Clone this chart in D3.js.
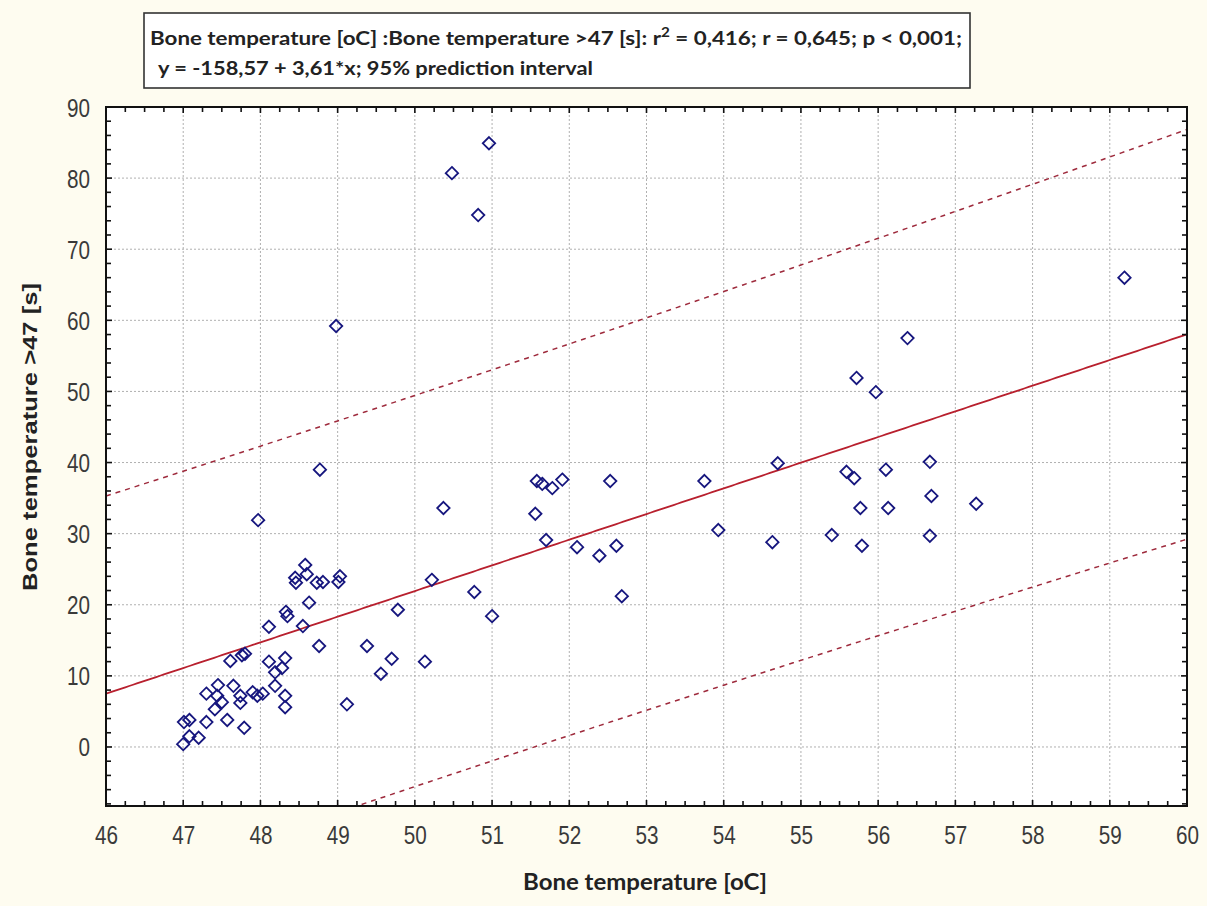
<!DOCTYPE html>
<html>
<head>
<meta charset="utf-8">
<script src="https://cdn.jsdelivr.net/npm/d3@7"></script>
<style>
  html, body { margin: 0; padding: 0; background: #fefcf0; }
  svg { display: block; }
</style>
</head>
<body>
<svg id="chart" width="1207" height="906"></svg>
<script>
// ---------------- data ----------------
const tempC = [
  47.00, 47.08, 47.20, 47.01, 47.08, 47.30, 47.57, 47.79,
  47.30, 47.45, 47.44, 47.50, 47.41, 47.65, 47.74, 47.74, 47.90, 47.96, 48.03, 48.19, 48.32, 48.32,
  48.19, 48.28, 48.11, 48.32, 47.61, 47.76, 47.80,
  48.11, 48.55, 48.33, 48.35, 48.63,
  48.45, 48.46, 48.60, 48.58, 48.73, 48.81, 49.03, 49.01,
  47.97, 48.77, 48.98,
  48.76, 49.12, 49.38, 49.56, 49.70, 49.78,
  50.13, 50.22, 50.37, 50.48, 50.96, 50.82, 50.77, 51.00,
  51.58, 51.65, 51.78, 51.91, 51.56, 51.70, 52.10, 52.39, 52.61, 52.68, 52.53, 53.75, 53.93,
  54.70, 54.63, 55.40, 55.72, 55.97, 56.38, 55.59, 55.69, 56.10, 55.77, 56.13, 55.79,
  56.67, 56.69, 56.67, 57.27, 59.19
];
const timeS = [
  0.4, 1.5, 1.3, 3.5, 3.8, 3.5, 3.8, 2.7,
  7.5, 8.7, 7.2, 6.3, 5.3, 8.6, 7.2, 6.2, 7.7, 7.2, 7.5, 8.6, 7.2, 5.6,
  10.5, 11.1, 12.0, 12.5, 12.1, 12.9, 13.1,
  16.9, 17.0, 19.0, 18.4, 20.3,
  23.8, 23.1, 24.3, 25.6, 23.1, 23.2, 24.0, 23.2,
  31.9, 39.0, 59.2,
  14.2, 6.0, 14.2, 10.3, 12.4, 19.3,
  12.0, 23.5, 33.6, 80.7, 84.9, 74.8, 21.8, 18.4,
  37.4, 37.0, 36.4, 37.6, 32.8, 29.1, 28.1, 26.9, 28.3, 21.2, 37.4, 37.4, 30.5,
  39.9, 28.8, 29.8, 51.9, 49.9, 57.5, 38.7, 37.8, 39.0, 33.6, 33.6, 28.3,
  40.1, 35.3, 29.7, 34.2, 66.0
];
// regression from the chart title
const intercept = -158.57;
const slope = 3.61;
const xTickValues = [46, 47, 48, 49, 50, 51, 52, 53, 54, 55, 56, 57, 58, 59, 60];
const yTickValues = [0, 10, 20, 30, 40, 50, 60, 70, 80, 90];
const titleLine1 = "Bone temperature [oC] :Bone temperature >47 [s]:  r";
const titleLine1b = " = 0,416;  r = 0,645; p < 0,001;";
const titleLine2 = "y = -158,57 + 3,61*x; 95% prediction interval";
const xTitle = "Bone temperature [oC]";
const yTitle = "Bone temperature >47 [s]";

// ---------------- layout ----------------
const svg = d3.select("#chart");
const L = 106, R = 1187, T = 107, B = 806;
const x = d3.scaleLinear().domain([46, 60]).range([L, R]);
const y = d3.scaleLinear().domain([-8.3, 90]).range([B, T]);

const tickFont = "'Liberation Sans', Arial, sans-serif";

// plot area
svg.append("rect").attr("x", L).attr("y", T).attr("width", R - L).attr("height", B - T).attr("fill", "#ffffff");

// grid
const grid = svg.append("g").attr("stroke", "#b0b0b0").attr("stroke-width", 1).attr("stroke-dasharray", "2,2");
xTickValues.slice(1, -1).forEach(v => {
  grid.append("line").attr("x1", x(v)).attr("x2", x(v)).attr("y1", T).attr("y2", B);
});
yTickValues.slice(0, -1).forEach(v => {
  grid.append("line").attr("x1", L).attr("x2", R).attr("y1", y(v)).attr("y2", y(v));
});

// clip
svg.append("clipPath").attr("id", "clip").append("rect")
  .attr("x", L).attr("y", T).attr("width", R - L).attr("height", B - T);
const plot = svg.append("g").attr("clip-path", "url(#clip)");

// regression and prediction interval
const n = tempC.length;
const xbar = d3.mean(tempC);
const Sxx = d3.sum(tempC, v => (v - xbar) ** 2);
const sse = d3.sum(tempC, (v, i) => (timeS[i] - (intercept + slope * v)) ** 2);
const sRes = Math.sqrt(sse / (n - 2));
const tCrit = 1.986;
const xs = d3.range(46, 60.001, 0.05);
const fit = v => intercept + slope * v;
const half = v => tCrit * sRes * Math.sqrt(1 + 1 / n + (v - xbar) ** 2 / Sxx);

const line = d3.line().x(d => x(d[0])).y(d => y(d[1]));
plot.append("path").datum(xs.map(v => [v, fit(v) + half(v)]))
  .attr("d", line).attr("fill", "none").attr("stroke", "#9e2a3c").attr("stroke-width", 1.5).attr("stroke-dasharray", "5,5");
plot.append("path").datum(xs.map(v => [v, fit(v) - half(v)]))
  .attr("d", line).attr("fill", "none").attr("stroke", "#9e2a3c").attr("stroke-width", 1.5).attr("stroke-dasharray", "5,5");
plot.append("path").datum(xs.map(v => [v, fit(v)]))
  .attr("d", line).attr("fill", "none").attr("stroke", "#b8202e").attr("stroke-width", 1.8);

// points: open diamonds
const pts = tempC.map((v, i) => [v, timeS[i]]);
const dsz = 6.2;
plot.append("g").selectAll("path").data(pts).join("path")
  .attr("d", d => {
    const cx = x(d[0]), cy = y(d[1]);
    return `M${cx},${cy - dsz}L${cx + dsz},${cy}L${cx},${cy + dsz}L${cx - dsz},${cy}Z`;
  })
  .attr("fill", "none").attr("stroke", "#16167e").attr("stroke-width", 1.8);

// frame
svg.append("rect").attr("x", L).attr("y", T).attr("width", R - L).attr("height", B - T)
  .attr("fill", "none").attr("stroke", "#111").attr("stroke-width", 2);

// ticks (inward, on all four sides)
const ticks = svg.append("g").attr("stroke", "#111").attr("stroke-width", 1.6);
const xMinor = d3.range(46, 60.0001, 0.25);
xMinor.forEach(v => {
  const major = Math.abs(v - Math.round(v)) < 1e-6;
  const len = major ? 6 : 5;
  ticks.append("line").attr("x1", x(v)).attr("x2", x(v)).attr("y1", B).attr("y2", B - len);
  ticks.append("line").attr("x1", x(v)).attr("x2", x(v)).attr("y1", T).attr("y2", T + len);
});
const yMinor = d3.range(-8, 90.0001, 2);
yMinor.forEach(v => {
  const major = v % 10 === 0;
  const len = major ? 6 : 5;
  ticks.append("line").attr("x1", L).attr("x2", L + len).attr("y1", y(v)).attr("y2", y(v));
  ticks.append("line").attr("x1", R).attr("x2", R - len).attr("y1", y(v)).attr("y2", y(v));
});

// tick labels
const xAxis = d3.axisBottom(x).tickValues(xTickValues).tickSize(0).tickPadding(0).tickFormat(d3.format("d"));
const gx = svg.append("g").attr("transform", `translate(0,${B})`).call(xAxis);
gx.select(".domain").remove();
gx.selectAll("text").attr("y", 38).attr("dy", null)
  .attr("font-family", tickFont).attr("font-size", 25).attr("fill", "#3a3a3a")
  .attr("textLength", 23).attr("lengthAdjust", "spacingAndGlyphs");

const yAxis = d3.axisLeft(y).tickValues(yTickValues).tickSize(0).tickPadding(0).tickFormat(d3.format("d"));
const gy = svg.append("g").attr("transform", `translate(90,0)`).call(yAxis);
gy.select(".domain").remove();
gy.selectAll("text").attr("x", 0).attr("dy", "0.36em")
  .attr("font-family", tickFont).attr("font-size", 25).attr("fill", "#3a3a3a")
  .attr("textLength", d => d === 0 ? 11.5 : 23).attr("lengthAdjust", "spacingAndGlyphs");

// axis titles
svg.append("text").attr("x", 645).attr("y", 890).attr("text-anchor", "middle")
  .attr("font-family", "Lato, 'Open Sans', sans-serif").attr("font-weight", "bold").attr("font-size", 22)
  .attr("fill", "#222").attr("textLength", 244).attr("lengthAdjust", "spacingAndGlyphs").text(xTitle);

svg.append("text").attr("transform", "translate(37,437) rotate(-90)").attr("text-anchor", "middle")
  .attr("font-family", "'Liberation Sans', Arial, sans-serif").attr("font-weight", "bold").attr("font-size", 21)
  .attr("fill", "#222").attr("textLength", 308).attr("lengthAdjust", "spacingAndGlyphs").text(yTitle);

// title box
svg.append("rect").attr("x", 144).attr("y", 13).attr("width", 826).attr("height", 75)
  .attr("fill", "#ffffff").attr("stroke", "#333").attr("stroke-width", 1.6);
const t1 = svg.append("text").attr("x", 150).attr("y", 45)
  .attr("font-family", "Lato, 'Open Sans', sans-serif").attr("font-weight", "bold").attr("font-size", 19)
  .attr("fill", "#222").attr("textLength", 812).attr("lengthAdjust", "spacingAndGlyphs");
t1.append("tspan").text(titleLine1);
t1.append("tspan").attr("dy", -8).attr("font-size", 13).text("2");
t1.append("tspan").attr("dy", 8).text(titleLine1b);
svg.append("text").attr("x", 158).attr("y", 75)
  .attr("font-family", "Lato, 'Open Sans', sans-serif").attr("font-weight", "bold").attr("font-size", 19)
  .attr("fill", "#222").attr("textLength", 435).attr("lengthAdjust", "spacingAndGlyphs").text(titleLine2);
</script>
</body>
</html>
